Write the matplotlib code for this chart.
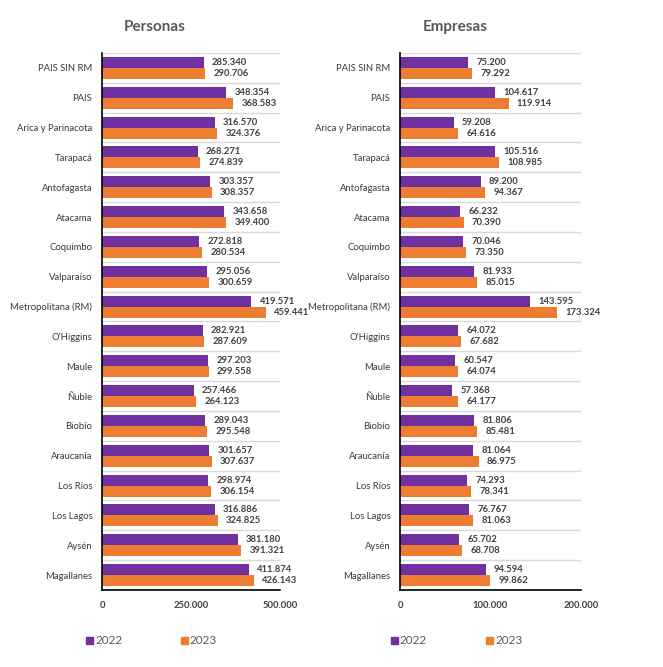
import matplotlib
matplotlib.use("Agg")
import matplotlib.pyplot as plt
import numpy as np
from matplotlib.ticker import FuncFormatter
from matplotlib.patches import Rectangle

categories = ["PAIS SIN RM", "PAIS", "Arica y Parinacota", "Tarapacá", "Antofagasta",
              "Atacama", "Coquimbo", "Valparaíso", "Metropolitana (RM)", "O\u2019Higgins",
              "Maule", "Ñuble", "Biobío", "Araucanía", "Los Ríos", "Los Lagos", "Aysén",
              "Magallanes"]
personas_2022 = [285340, 348354, 316570, 268271, 303357, 343658, 272818, 295056, 419571,
                 282921, 297203, 257466, 289043, 301657, 298974, 316886, 381180, 411874]
personas_2023 = [290706, 368583, 324376, 274839, 308357, 349400, 280534, 300659, 459441,
                 287609, 299558, 264123, 295548, 307637, 306154, 324825, 391321, 426143]
empresas_2022 = [75200, 104617, 59208, 105516, 89200, 66232, 70046, 81933, 143595,
                 64072, 60547, 57368, 81806, 81064, 74293, 76767, 65702, 94594]
empresas_2023 = [79292, 119914, 64616, 108985, 94367, 70390, 73350, 85015, 173324,
                 67682, 64074, 64177, 85481, 86975, 78341, 81063, 68708, 99862]
years = ["2022", "2023"]
titles = ["Personas", "Empresas"]

PURPLE = "#7030A0"
ORANGE = "#ED7D31"
TXT = "#404040"
FONT = ["Lato", "DejaVu Sans"]
plt.rcParams['font.family'] = FONT

W, H = 663, 667
fig = plt.figure(figsize=(W / 100, H / 100), dpi=100)


def fmt(v):
    return f"{int(v):,}".replace(",", ".")


def panel(x0px, x1px, v22, v23, xmax, ticks, title, title_x, leg_x):
    ax = fig.add_axes([x0px / W, 1 - 590 / H, (x1px - x0px) / W, (590 - 53) / H])
    n = len(categories)
    y = np.arange(n)
    h = 0.37
    ax.barh(y - h / 2, v22, height=h, color=PURPLE)
    ax.barh(y + h / 2, v23, height=h, color=ORANGE)
    ax.set_ylim(n - 0.5, -0.5)
    ax.set_xlim(0, xmax)
    for b in np.arange(-0.5, n - 0.5, 1):
        ax.axhline(b, color="#D9D9D9", lw=1, zorder=0)
    for i in range(n):
        ax.annotate(fmt(v22[i]), (v22[i], i - h / 2), xytext=(6, 0), textcoords="offset points",
                    va="center", ha="left", fontsize=6.8, color=TXT, fontweight="bold")
        ax.annotate(fmt(v23[i]), (v23[i], i + h / 2), xytext=(6, 0), textcoords="offset points",
                    va="center", ha="left", fontsize=6.8, color=TXT, fontweight="bold")
    ax.set_yticks(y)
    ax.set_yticklabels(categories, fontsize=6.8, color="#3a3a3a")
    ax.tick_params(axis="y", length=0, pad=7)
    ax.set_xticks(ticks)
    ax.xaxis.set_major_formatter(FuncFormatter(lambda v, p: fmt(v)))
    ax.tick_params(axis="x", length=0, pad=8, labelsize=6.8, labelcolor=TXT)
    for s in ["top", "right"]:
        ax.spines[s].set_visible(False)
    for s in ["left", "bottom"]:
        ax.spines[s].set_color("black")
        ax.spines[s].set_linewidth(1.2)
    for lbl in ax.get_xticklabels():
        lbl.set_fontweight("bold")
    fig.text(title_x / W, 1 - 27 / H, title, ha="center", va="center", fontsize=11,
             fontweight="bold", color="#595959")
    # legend
    for j, (c, yr) in enumerate(zip([PURPLE, ORANGE], years)):
        lx = leg_x + j * 95
        fig.patches.append(Rectangle((lx / W, 1 - 644 / H), 7 / W, 7 / H,
                                     transform=fig.transFigure, color=c))
        fig.text((lx + 9) / W, 1 - 640 / H, yr, ha="left", va="center", fontsize=8.5,
                 color="#595959")


panel(102, 280, personas_2022, personas_2023, 500000, [0, 250000, 500000], titles[0], 155, 86)
panel(400, 581, empresas_2022, empresas_2023, 200000, [0, 100000, 200000], titles[1], 455, 391)

fig.savefig("out.png", dpi=100, facecolor="white")
